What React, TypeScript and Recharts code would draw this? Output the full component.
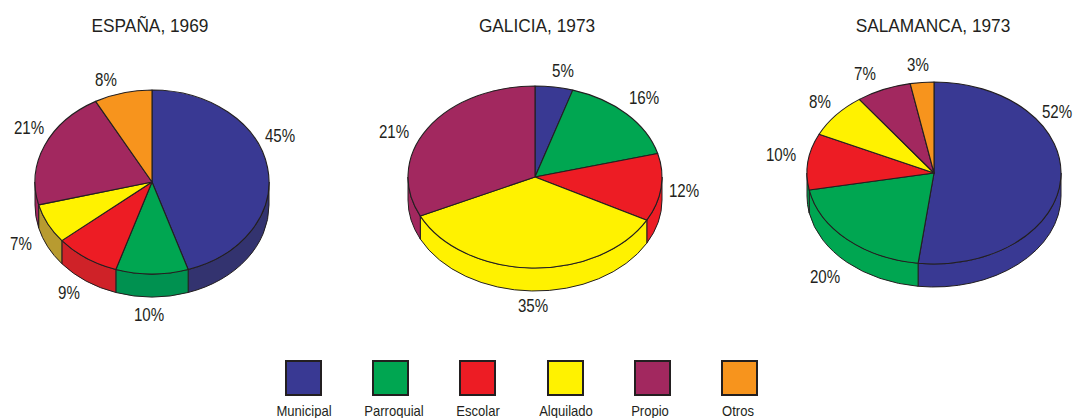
import React from "react";
import { PieChart, Pie, Legend } from "recharts";

const categories = ["Municipal", "Parroquial", "Escolar", "Alquilado", "Propio", "Otros"];
const espanaValues = [45, 10, 9, 7, 21, 8];
const espanaLabels = ["45%", "10%", "9%", "7%", "21%", "8%"];
const galiciaValues = [4.8, 16, 12, 35, 32];
const galiciaLabels = ["5%", "16%", "12%", "35%", "21%"];
const salamancaValues = [52, 20, 10, 8, 7, 3];
const salamancaLabels = ["52%", "20%", "10%", "8%", "7%", "3%"];

const COLORS = ["#393993", "#00a651", "#ed1c24", "#fff200", "#a2285f", "#f7941d"];
const ESPANA_WALLS = ["#33336f", "#009150", "#cf2228", "#b89b30", "#a2285f", "#f7941d"];
const SALAMANCA_WALLS = ["#393993", "#00a651", "#00a651", "#fff200", "#a2285f", "#f7941d"];
const LEGEND_TEXT_NUDGE = [0, 3, 0, 1, -2, -2];
const INK = "#231f20";
const FONT = "'Liberation Sans', Arial, sans-serif";

const toRows = (values: number[], labels: string[]) =>
  values.map((value, i) => ({ name: categories[i], value, label: labels[i], fill: COLORS[i] }));

const pies = [
  {
    title: "ESPAÑA, 1969", titleX: 150,
    rows: toRows(espanaValues, espanaLabels), walls: ESPANA_WALLS,
    cx: 152, cy: 182, rx: 117, ry: 92, depth: 23,
    labelOffsets: [[128, -46], [-3, 133], [-83, 111], [-131, 62], [-123, -54], [-46, -102]],
  },
  {
    title: "GALICIA, 1973", titleX: 537,
    rows: toRows(galiciaValues, galiciaLabels), walls: COLORS,
    cx: 535, cy: 177, rx: 127, ry: 91, depth: 23,
    labelOffsets: [[28, -106], [109, -79], [149, 14], [-2, 129], [-141, -45]],
  },
  {
    title: "SALAMANCA, 1973", titleX: 933,
    rows: toRows(salamancaValues, salamancaLabels), walls: SALAMANCA_WALLS,
    cx: 934, cy: 173, rx: 127, ry: 91, depth: 23,
    labelOffsets: [[123, -61], [-109, 104], [-153, -18], [-114, -71], [-69, -99], [-16, -108]],
  },
];

const clock = (a: number) => 90 - a;
const rad = (d: number) => (d * Math.PI) / 180;
const pt = (cx: number, cy: number, rx: number, ry: number, t: number) => [
  cx + rx * Math.sin(rad(t)),
  cy - ry * Math.cos(rad(t)),
];

function topShape(ry: number) {
  return (p: any) => {
    const t0 = clock(p.startAngle);
    const t1 = clock(p.endAngle);
    const rx = p.outerRadius;
    const [x0, y0] = pt(p.cx, p.cy, rx, ry, t0);
    const [x1, y1] = pt(p.cx, p.cy, rx, ry, t1);
    const large = t1 - t0 > 180 ? 1 : 0;
    return (
      <path
        d={`M${p.cx},${p.cy}L${x0},${y0}A${rx},${ry} 0 ${large} 1 ${x1},${y1}Z`}
        fill={p.fill}
        stroke={INK}
        strokeWidth={1.1}
        strokeLinejoin="round"
      />
    );
  };
}

function wallShape(ry: number, depth: number, walls: string[]) {
  return (p: any) => {
    const t0 = Math.max(clock(p.startAngle), 90);
    const t1 = Math.min(clock(p.endAngle), 270);
    if (t1 <= t0) return <g />;
    const rx = p.outerRadius;
    const [x0, y0] = pt(p.cx, p.cy, rx, ry, t0);
    const [x1, y1] = pt(p.cx, p.cy, rx, ry, t1);
    return (
      <path
        d={`M${x0},${y0}A${rx},${ry} 0 0 1 ${x1},${y1}L${x1},${y1 + depth}A${rx},${ry} 0 0 0 ${x0},${y0 + depth}Z`}
        fill={walls[p.index]}
        stroke={INK}
        strokeWidth={1}
        strokeLinejoin="round"
      />
    );
  };
}

function labelRenderer(cx: number, cy: number, offsets: number[][]) {
  return (p: any) => (
    <text
      transform={`translate(${cx + offsets[p.index][0]},${cy + offsets[p.index][1]}) scale(0.84,1)`}
      textAnchor="middle"
      dominantBaseline="central"
      fontFamily={FONT}
      fontSize={18}
      fill={INK}
    >
      {p.payload?.label ?? p.label}
    </text>
  );
}

const renderLegend = () => (
  <div style={{ position: "relative", width: 1073, height: 418 }}>
    {categories.map((c, i) => (
      <div key={c}>
        <div
          style={{
            position: "absolute",
            left: 285 + i * 87.2,
            top: 360,
            width: 37,
            height: 36,
            boxSizing: "border-box",
            background: COLORS[i],
            border: `2.5px solid ${INK}`,
          }}
        />
        <div
          style={{
            position: "absolute",
            left: 303.5 + i * 87.2 - 50 + LEGEND_TEXT_NUDGE[i],
            top: 403,
            width: 100,
            textAlign: "center",
            fontFamily: FONT,
            fontSize: 15,
            lineHeight: "16px",
            color: INK,
            transform: "scaleX(0.87)",
          }}
        >
          {c}
        </div>
      </div>
    ))}
  </div>
);

export default function App() {
  return (
    <div style={{ position: "absolute", left: 0, top: 0, width: 1073, height: 418, overflow: "hidden", background: "#fff" }}>
      <PieChart width={1073} height={418} margin={{ top: 0, right: 0, bottom: 0, left: 0 }}>
        {pies.map((d) => (
          <Pie
            key={d.title + "-wall"}
            data={d.rows}
            dataKey="value"
            nameKey="name"
            cx={d.cx}
            cy={d.cy}
            outerRadius={d.rx}
            startAngle={90}
            endAngle={-270}
            isAnimationActive={false}
            legendType="none"
            shape={wallShape(d.ry, d.depth, d.walls)}
          />
        ))}
        {pies.map((d) => (
          <Pie
            key={d.title}
            data={d.rows}
            dataKey="value"
            nameKey="name"
            cx={d.cx}
            cy={d.cy}
            outerRadius={d.rx}
            startAngle={90}
            endAngle={-270}
            isAnimationActive={false}
            shape={topShape(d.ry)}
            label={labelRenderer(d.cx, d.cy, d.labelOffsets)}
            labelLine={false}
          />
        ))}
        {pies.map((d) => (
          <text
            key={d.title + "-title"}
            transform={`translate(${d.titleX},26) scale(0.91,1)`}
            textAnchor="middle"
            dominantBaseline="central"
            fontFamily={FONT}
            fontSize={19}
            fill={INK}
          >
            {d.title}
          </text>
        ))}
        <Legend
          content={renderLegend}
          wrapperStyle={{ position: "absolute", left: 0, top: 0, width: 1073, height: 418, bottom: "auto" }}
        />
      </PieChart>
    </div>
  );
}
